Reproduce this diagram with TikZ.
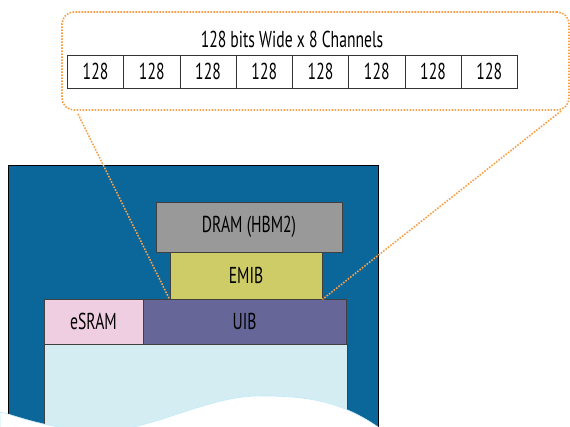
\documentclass[tikz,border=0pt]{standalone}
\usepackage{fontspec}
\setmainfont{PT Sans}[FakeStretch=0.68]
\definecolor{chipBlue}{RGB}{11, 102, 153}
\definecolor{dramGray}{RGB}{153, 153, 153}
\definecolor{emibYellow}{RGB}{206, 204, 102}
\definecolor{uibPurple}{RGB}{102, 102, 153}
\definecolor{sramPink}{RGB}{240, 206, 226}
\definecolor{fabricCyan}{RGB}{212, 237, 243}
\definecolor{calloutOrange}{RGB}{247, 160, 74}

\begin{document}
\begin{tikzpicture}[x=1pt, y=-1pt]
    % Styles
    \tikzstyle{die} = [rectangle, draw=black!75, line width=0.8pt, inner sep=0pt, font=\fontsize{23}{26}\selectfont]
    \tikzstyle{cell} = [rectangle, draw=black!80, line width=0.8pt, minimum width=56.25pt, minimum height=33pt, inner sep=0pt, font=\fontsize{23}{26}\selectfont]
    \tikzstyle{callout} = [draw=calloutOrange, line width=1.6pt, dash pattern=on 1.6pt off 1.4pt]

    \useasboundingbox (0,0) rectangle (570,426);

    % Package and dies - explicit coordinates
    \node[rectangle, draw=black, line width=0.8pt, fill=chipBlue, minimum width=370pt, minimum height=270pt] (package) at (193, 300) {};
    \node[die, fill=fabricCyan, minimum width=303pt, minimum height=90pt] (fabric) at (195.5, 389) {};
    \node[die, fill=sramPink, minimum width=99pt, minimum height=45pt] (esram) at (93.5, 321.5) {eSRAM};
    \node[die, fill=uibPurple, minimum width=203pt, minimum height=45pt] (uib) at (244.5, 321.5) {UIB};
    \node[die, fill=emibYellow, minimum width=152pt, minimum height=47pt] (emib) at (246, 275.5) {EMIB};
    \node[die, fill=dramGray, minimum width=186pt, minimum height=50pt] (dram) at (249, 227) {DRAM (HBM2)};

    % Cut-away edge
    \filldraw[fill=white, draw=cyan!25, line width=0.6pt] (0,412) -- (8,414) .. controls (30,421) and (60,430) .. (100,431)
        .. controls (150,432) and (210,394) .. (263,396)
        .. controls (310,396) and (345,402) .. (385,432) -- (0,432) -- cycle;

    % Channels
    \node[font=\fontsize{23}{26}\selectfont] (title) at (292, 39) {128 bits Wide x 8 Channels};
    \foreach \i in {0,...,7}
        \node[cell] (ch\i) at (67.4+28.125+\i*56.25, 71.5) {128};

    % Callout
    \node[callout, rectangle, rounded corners=12pt, minimum width=507pt, minimum height=98pt] (zoom) at (315.5, 61) {};
    \coordinate (legL) at (78, 114);
    \coordinate (legR) at (561, 111);
    \draw[callout] (legL) -- (emib.south west);
    \draw[callout] (legR) -- (emib.south east);
\end{tikzpicture}
\end{document}
